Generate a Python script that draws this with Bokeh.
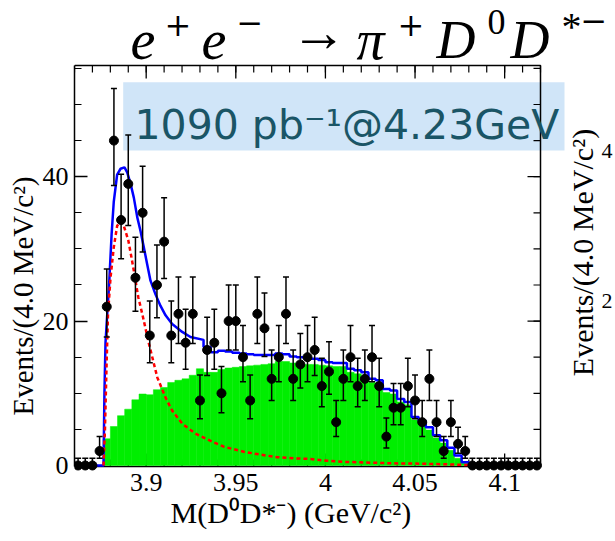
import numpy as np
from bokeh.plotting import figure
from bokeh.models import (Range1d, FixedTicker, CustomJSTickFormatter, Label,
                          BoxAnnotation, Title)
from bokeh.embed import file_html
from bokeh.resources import INLINE

# ---------------- data ----------------
bin_lo = 3.86
bin_w = 0.004
counts = [0, 0, 0, 2, 22, 45, 34, 39, 26, 35, 18, 25, 31, 18, 21, 17, 21, 9, 16, 17,
          10, 20, 20, 15, 9, 21, 19, 12, 15, 21, 12, 14, 15, 16, 11, 13, 6, 12, 15, 11,
          12, 15, 11, 4, 8, 8, 11, 9, 6, 12, 6, 2, 6, 3, 2, 0, 0, 0, 0, 0,
          0, 0, 0, 0, 0]

green_first_bin = 4
green = [3.7, 5.4, 6.9, 7.8, 9.1, 9.9, 9.8, 10.5, 10.8, 11.5, 11.8, 12.0, 12.5, 13.4,
         12.9, 12.9, 13.3, 13.5, 13.6, 13.7, 13.8, 13.9, 14.0, 14.1, 14.4, 14.4, 14.2,
         14.1, 14.0, 14.0, 13.9, 13.8, 13.7, 13.7, 12.9, 12.7, 12.4, 11.5, 11.3, 10.1,
         9.9, 8.8, 8.4, 6.3, 5.8, 4.9, 3.8, 3.1, 2.1, 1.0, 0.3]

red_m = [3.8762, 3.8770, 3.8779, 3.8787, 3.8801, 3.8819, 3.8838, 3.8857, 3.8875,
         3.8900, 3.8918, 3.8937, 3.8956, 3.8978, 3.9015, 3.9062, 3.9108, 3.9145,
         3.9201, 3.9275, 3.9377, 3.9433, 3.9545, 3.9638, 3.9731, 3.9824, 3.9917,
         4.0010, 4.0112, 4.0375, 4.0531, 4.0698, 4.0810, 4.0838]
red_y = [0, 5, 14, 21, 26, 30.2, 33.2, 33.8, 33.2, 31.2, 28.8, 26.1, 23.3, 21.0,
         16.9, 12.2, 9.4, 7.6, 5.8, 4.4, 3.2, 2.6, 1.9, 1.5, 1.15, 1.0, 0.9, 0.65,
         0.5, 0.3, 0.25, 0.15, 0.05, 0]

blue_m = [3.8600, 3.8762, 3.8767, 3.8773, 3.8784, 3.8793, 3.8807, 3.8819, 3.8838,
          3.8857, 3.8879, 3.8894, 3.8913, 3.8931, 3.8950, 3.8968, 3.8987, 3.9006,
          3.9024, 3.9052, 3.9080, 3.9108, 3.9145, 3.9201, 3.9247, 3.9320]
blue_y = [0, 0, 10, 17, 21.5, 25, 32, 36.5, 40.3, 41.1, 41.3, 40.6, 39.0, 37.1,
          34.4, 32.5, 30.2, 27.8, 25.6, 23.7, 22.1, 20.8, 19.6, 18.5, 17.8, 17.4]

blue_tail_first_bin = 18
blue_tail = [16.4, 15.7, 15.9, 15.8, 15.6, 15.5, 15.4, 15.3, 15.3, 15.3, 15.5, 15.4,
             15.1, 15.0, 14.9, 14.8, 14.6, 14.3, 14.2, 14.2, 13.4, 13.2, 12.9, 12.0,
             11.8, 10.6, 10.4, 9.2, 8.8, 6.7, 6.2, 5.3, 4.2, 3.5, 2.45, 1.4, 0.46]

x_ticks = [3.9, 3.95, 4.0, 4.05, 4.1]
x_tick_labels = ["3.9", "3.95", "4", "4.05", "4.1"]
y_ticks = [0, 20, 40]
y_tick_labels = ["0", "20", "40"]

# ---------------- layout ----------------
W, H = 615, 541
L, R, T, B = 74, 540, 65, 466          # the drawn plot box (pixels)
BF = 471                               # bottom of the Bokeh frame (a little lower)
XA, XB = 3.86, 4.12                    # x extent of the plot box
YA, YB = -0.14, 55.4                   # y extent of the plot box
sx = (R - L) / (XB - XA)               # px per GeV
sy = (B - T) / (YB - YA)               # px per event
X1 = XA + (W - L) / sx
Y0 = YA - (BF - B) / sy
Y1 = YA + B / sy


def dx(px):
    return XA + (px - L) / sx


def dy(py):
    return YA + (B - py) / sy


p = figure(width=W, height=H, x_range=Range1d(XA, X1), y_range=Range1d(Y0, Y1),
           output_backend="svg", toolbar_location=None, title=None,
           min_border_left=L, min_border_right=0, min_border_top=0,
           min_border_bottom=H - BF)
p.xgrid.visible = False
p.ygrid.visible = False
p.outline_line_alpha = 0
p.background_fill_color = "white"
p.border_fill_color = "white"

serif = "Liberation Serif"

x_minor = [round(3.86 + 0.01 * i, 2) for i in range(27)]
y_minor = [5 * i for i in range(12)]

fmt_x = CustomJSTickFormatter(args=dict(t=x_ticks, lab=x_tick_labels), code="""
const i = t.findIndex(v => Math.abs(v - tick) < 1e-9); return i >= 0 ? lab[i] : '';""")
fmt_y = CustomJSTickFormatter(args=dict(t=y_ticks, lab=y_tick_labels), code="""
const i = t.findIndex(v => Math.abs(v - tick) < 1e-9); return i >= 0 ? lab[i] : '';""")


def style_axis(ax):
    ax.axis_line_color = "black"
    ax.axis_line_width = 1.5
    ax.major_tick_in = 13
    ax.major_tick_out = 0
    ax.minor_tick_in = 7
    ax.minor_tick_out = 0
    ax.major_tick_line_width = 1.3
    ax.minor_tick_line_width = 1.2
    ax.major_tick_line_color = "black"
    ax.minor_tick_line_color = "black"
    ax.major_label_text_font = serif
    ax.major_label_text_font_size = "26px"
    ax.major_label_text_color = "black"


# bottom axis: labels only (its line and ticks are drawn on the box edge below)
xb = p.xaxis[0]
xb.ticker = FixedTicker(ticks=x_ticks, minor_ticks=x_minor)
xb.formatter = fmt_x
style_axis(xb)
xb.axis_line_alpha = 0
xb.major_tick_in = 0
xb.minor_tick_in = 0
xb.major_label_standoff = 2

yl = p.yaxis[0]
yl.ticker = FixedTicker(ticks=y_ticks, minor_ticks=y_minor)
yl.formatter = fmt_y
yl.major_label_standoff = 6
yl.bounds = (YA, YB)
style_axis(yl)

p.add_layout(Title(text="M(D\u2070D*\u207b) (GeV/c\u00b2)", align="left", offset=96,
                   text_font=serif, text_font_size="30px", text_font_style="normal",
                   text_color="black", standoff=0), "below")
p.add_layout(Title(text="Events/(4.0 MeV/c\u00b2)", align="left", offset=56,
                   text_font=serif, text_font_size="29px", text_font_style="normal",
                   text_color="black", standoff=2), "left")

# bottom, top and right edges of the plot box with inward ticks
p.line([XA, XB, XB, XA], [YA, YA, YB, YB], line_color="black", line_width=1.5)
for y_edge, d in ((YB, -1), (YA, 1)):
    p.segment(x_ticks, [y_edge] * len(x_ticks), x_ticks,
              [y_edge + d * 13 / sy] * len(x_ticks), line_color="black", line_width=1.3)
    p.segment(x_minor, [y_edge] * len(x_minor), x_minor,
              [y_edge + d * 7 / sy] * len(x_minor), line_color="black", line_width=1.2)
p.segment([XB] * len(y_ticks), y_ticks, [XB - 13 / sx] * len(y_ticks), y_ticks,
          line_color="black", line_width=1.3)
p.segment([XB] * len(y_minor), y_minor, [XB - 7 / sx] * len(y_minor), y_minor,
          line_color="black", line_width=1.2)

# ---------------- info box (under the data) ----------------
box = BoxAnnotation(left=dx(122.7), right=dx(564), top=dy(81.7), bottom=dy(150),
                    fill_color="#d0e5f8", fill_alpha=1.0, line_alpha=0, level="underlay")
p.add_layout(box)

# ---------------- glyphs ----------------
g_idx = np.arange(len(green)) + green_first_bin
g_left = bin_lo + bin_w * g_idx
p.quad(left=g_left, right=g_left + bin_w, bottom=0, top=green,
       fill_color="#00ee00", line_color="#00ee00", line_width=0.5)

bx = list(blue_m)
by = list(blue_y)
for k, v in enumerate(blue_tail):
    e0 = bin_lo + bin_w * (blue_tail_first_bin + k)
    bx += [e0, e0 + bin_w]
    by += [v, v]
end_edge = bin_lo + bin_w * (blue_tail_first_bin + len(blue_tail))
bx += [end_edge, XB]
by += [0, 0]
p.line(bx, by, line_color="#0000ff", line_width=2.5)

p.line(red_m, red_y, line_color="#ff0000", line_width=2.5, line_dash="4 3")

n = np.array(counts, dtype=float)
centers = bin_lo + bin_w * (np.arange(len(n)) + 0.5)
err = np.sqrt(n + 0.25)
hi = n + 0.5 + err
lo = np.where(n > 0, n + 0.5 - err, 0.0)
p.segment(centers, lo, centers, hi, line_color="black", line_width=1.5)
p.scatter(centers, hi, marker="dash", size=6, line_color="black", line_width=1.5)
nz = n > 0
p.scatter(centers[nz], lo[nz], marker="dash", size=6, line_color="black", line_width=1.5)
p.scatter(centers, n, marker="circle", size=9, fill_color="black", line_color="black")

# ---------------- texts ----------------
p.add_layout(Label(x=dx(134), y=dy(124.8), text="1090 pb\u207b\u00b9@4.23GeV",
                   text_font="DejaVu Sans", text_font_size="41px", text_color="#1a5566",
                   text_baseline="middle", text_align="left"))


def lab(text, px, py, size, style="normal", align="left", baseline="middle",
        angle=0.0, font=serif):
    p.add_layout(Label(x=dx(px), y=dy(py), text=text, text_font=font,
                       text_font_size=f"{size}px", text_font_style=style,
                       text_color="black", text_align=align, text_baseline=baseline,
                       angle=angle))


# title pieces (y = vertical middle of the text line)
sup = "DejaVu Serif"
lab("e", 130, 39, 56, "italic")
lab("+", 164, 24, 32, font=sup)
lab("e", 201, 39, 56, "italic")
lab("\u2212", 236, 22, 32, font=sup)
lab("\u2192", 290, 31, 56)
lab("\u03c0", 356, 39, 56, "italic")
lab("+", 397, 24, 32, font=sup)
lab("D", 436, 39, 54, "italic")
lab("0", 487, 21, 36)
lab("D", 510, 39, 54, "italic")
lab("*", 561, 26, 40)
lab("\u2212", 580, 20, 32, font=sup)

# partial neighbouring panel at the right edge
lab("Events/(4.0 MeV/c\u00b2)", 582, 252, 30, align="center", angle=np.pi / 2)
lab("4", 601, 150, 22)
lab("2", 601, 300, 22)

open("out.html", "w").write(file_html(p, INLINE))
